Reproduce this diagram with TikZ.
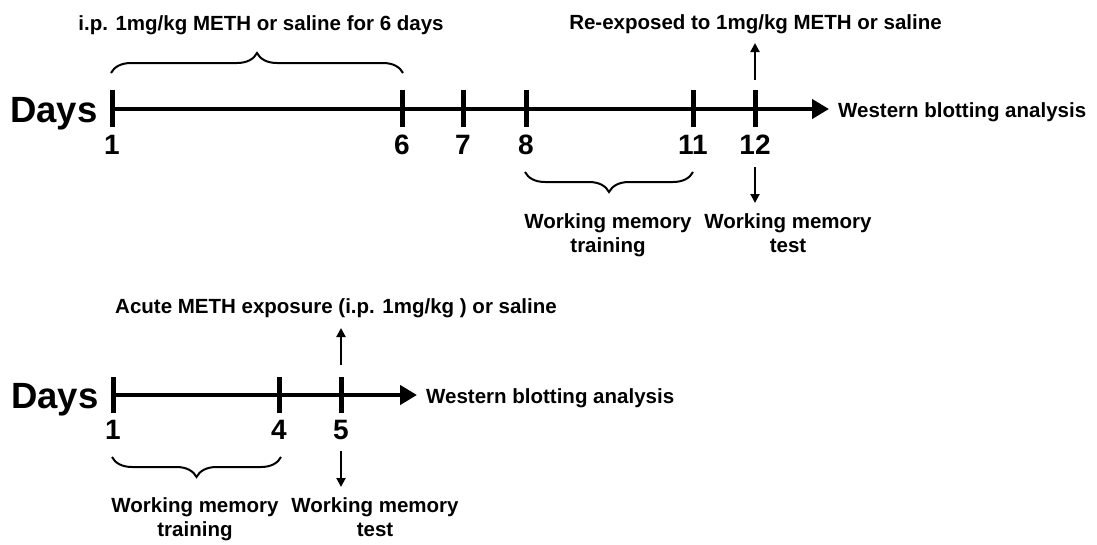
\documentclass[tikz,border=0pt]{standalone}
\usepackage{fontspec}
\setmainfont{Liberation Sans}
\usetikzlibrary{arrows.meta,decorations.pathreplacing}
\begin{document}
\begin{tikzpicture}[x=1pt,y=-1pt,
  lbl/.style={font=\fontsize{20.5}{24}\selectfont\bfseries,inner sep=0pt,align=center,anchor=base},
  num/.style={font=\fontsize{28}{30}\selectfont\bfseries,inner sep=0pt,anchor=base},
  daylbl/.style={font=\fontsize{36.5}{38}\selectfont\bfseries,inner sep=0pt,anchor=base west},
  axisline/.style={line width=4.5pt,-{Triangle[length=17pt,width=19pt]}},
  daytick/.style={line width=5pt},
  smallarrow/.style={line width=2pt,-{Triangle[length=9pt,width=9pt]}},
  bracestyle/.style={line width=2pt,decorate,decoration={brace,amplitude=20pt}}]
\useasboundingbox (0,0) rectangle (1097,544);

% ---------- top timeline ----------
\coordinate (a1) at (112,109);
\coordinate (a6) at (402,109);
\coordinate (a7) at (463,109);
\coordinate (a8) at (526,109);
\coordinate (a11) at (693,109);
\coordinate (a12) at (755,109);
\coordinate (aend) at (829,109);
\draw[axisline] (a1) -- (aend);
\foreach \p in {a1,a6,a7,a8,a11,a12}
  \draw[daytick] ([yshift=-18pt]\p) -- ([yshift=19pt]\p);

\node[daylbl] (days1) at (10,122) {Days};
\node[num] (n1) at (112,154) {1};
\node[num] (n6) at (402,154) {6};
\node[num] (n7) at (463,154) {7};
\node[num] (n8) at (526,154) {8};
\node[num] (n11) at (693,154) {11};
\node[num] (n12) at (755,154) {12};

\node[lbl,anchor=base west] (wb1) at (838,117) {Western blotting analysis};
\node[lbl] (meth6) at (261,30) {i.p. 1mg/kg METH or saline for 6 days};
\node[lbl] (reexp) at (755.5,29) {Re-exposed to 1mg/kg METH or saline};

\coordinate (up12s) at (755,80);
\coordinate (up12e) at (755,43);
\draw[smallarrow] (up12s) -- (up12e);
\coordinate (dn12s) at (755,167);
\coordinate (dn12e) at (755,203);
\draw[smallarrow] (dn12s) -- (dn12e);

\coordinate (br1a) at (111,73);
\coordinate (br1b) at (403,73);
\draw[bracestyle] (br1a) -- (br1b);
\coordinate (br2a) at (693,172);
\coordinate (br2b) at (525,172);
\draw[bracestyle] (br2a) -- (br2b);

\node[lbl] (wmt1) at (608,252) {Working memory\\training};
\node[lbl] (wmtest1) at (788,252) {Working memory\\test};

% ---------- bottom timeline ----------
\coordinate (b1) at (113,395);
\coordinate (b4) at (279,395);
\coordinate (b5) at (341,395);
\coordinate (bend) at (417,395);
\draw[axisline] (b1) -- (bend);
\foreach \p in {b1,b4,b5}
  \draw[daytick] ([yshift=-18pt]\p) -- ([yshift=18pt]\p);

\node[daylbl] (days2) at (11,408) {Days};
\node[num] (m1) at (113,439) {1};
\node[num] (m4) at (279,439) {4};
\node[num] (m5) at (341,439) {5};

\node[lbl,anchor=base west] (wb2) at (426,403) {Western blotting analysis};
\node[lbl] (acute) at (336,313) {Acute METH exposure (i.p. 1mg/kg ) or saline};

\coordinate (up5s) at (341,365);
\coordinate (up5e) at (341,328);
\draw[smallarrow] (up5s) -- (up5e);
\coordinate (dn5s) at (341,451);
\coordinate (dn5e) at (341,487);
\draw[smallarrow] (dn5s) -- (dn5e);

\coordinate (br3a) at (281,457);
\coordinate (br3b) at (112,457);
\draw[bracestyle] (br3a) -- (br3b);

\node[lbl] (wmt2) at (195,536) {Working memory\\training};
\node[lbl] (wmtest2) at (375,536) {Working memory\\test};
\end{tikzpicture}
\end{document}
